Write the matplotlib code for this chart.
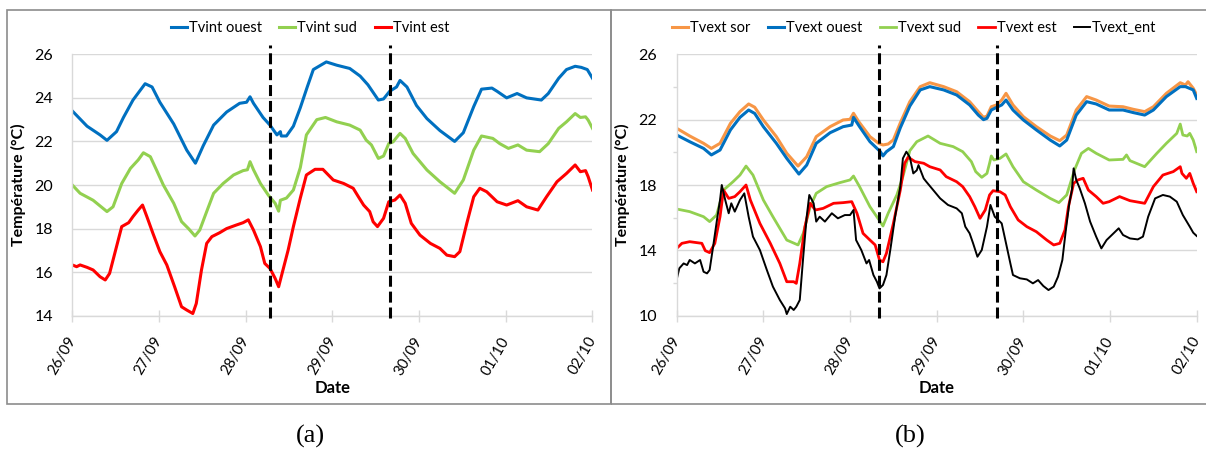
import matplotlib
matplotlib.use("Agg")
import matplotlib.pyplot as plt
from matplotlib.patches import Rectangle

plt.rcParams['font.family'] = ['Lato', 'DejaVu Sans']

# jours depuis le 26/09 00:00 -> température (°C)
days = ["26/09", "27/09", "28/09", "29/09", "30/09", "01/10", "02/10"]

int_ouest = [(0, 23.4), (0.17, 22.7), (0.32, 22.3), (0.40, 22.05), (0.51, 22.45), (0.59, 23.1),
             (0.70, 23.9), (0.84, 24.65), (0.92, 24.5), (1.01, 23.8), (1.17, 22.8), (1.32, 21.6),
             (1.42, 21.0), (1.51, 21.8), (1.63, 22.75), (1.78, 23.35), (1.93, 23.75), (2.01, 23.8),
             (2.05, 24.05), (2.09, 23.75), (2.20, 23.1), (2.28, 22.75), (2.36, 22.3), (2.40, 22.45),
             (2.41, 22.25), (2.47, 22.25), (2.55, 22.7), (2.63, 23.55), (2.71, 24.5), (2.78, 25.3),
             (2.93, 25.65), (3.05, 25.5), (3.20, 25.35), (3.32, 25.0), (3.41, 24.6), (3.53, 23.9),
             (3.59, 23.95), (3.66, 24.3), (3.74, 24.5), (3.78, 24.8), (3.86, 24.5), (3.97, 23.65),
             (4.09, 23.05), (4.24, 22.5), (4.41, 22.0), (4.51, 22.4), (4.63, 23.6), (4.72, 24.4),
             (4.84, 24.45), (4.90, 24.3), (5.01, 24.0), (5.13, 24.2), (5.24, 24.0), (5.41, 23.9),
             (5.49, 24.2), (5.61, 24.9), (5.70, 25.3), (5.80, 25.45), (5.87, 25.4), (5.94, 25.3),
             (6.0, 24.9)]

int_sud = [(0, 20.0), (0.09, 19.62), (0.24, 19.3), (0.40, 18.78), (0.47, 19.0), (0.57, 20.07),
           (0.67, 20.76), (0.76, 21.15), (0.82, 21.48), (0.90, 21.3), (0.97, 20.7), (1.05, 20.0),
           (1.17, 19.16), (1.26, 18.32), (1.34, 18.0), (1.415, 17.66), (1.47, 17.93), (1.55, 18.78),
           (1.63, 19.62), (1.74, 20.07), (1.86, 20.46), (1.97, 20.66), (2.02, 20.7), (2.05, 21.07),
           (2.09, 20.7), (2.17, 20.07), (2.26, 19.54), (2.34, 19.16), (2.38, 18.8), (2.40, 19.3),
           (2.47, 19.4), (2.55, 19.77), (2.63, 20.8), (2.70, 22.3), (2.82, 23.0), (2.92, 23.1),
           (3.05, 22.9), (3.20, 22.75), (3.32, 22.52), (3.39, 22.06), (3.45, 21.84), (3.53, 21.22),
           (3.59, 21.33), (3.65, 21.9), (3.70, 21.98), (3.74, 22.18), (3.78, 22.37), (3.84, 22.14),
           (3.93, 21.45), (4.09, 20.69), (4.24, 20.15), (4.41, 19.62), (4.51, 20.23), (4.63, 21.6),
           (4.72, 22.25), (4.85, 22.14), (4.93, 21.9), (5.03, 21.68), (5.14, 21.84), (5.24, 21.6),
           (5.39, 21.53), (5.49, 21.9), (5.61, 22.6), (5.70, 22.9), (5.80, 23.28), (5.86, 23.1),
           (5.92, 23.13), (5.95, 22.98), (6.0, 22.6)]

int_est = [(0, 16.33), (0.05, 16.25), (0.09, 16.33), (0.17, 16.22), (0.24, 16.1), (0.32, 15.79),
           (0.38, 15.64), (0.43, 15.94), (0.51, 17.17), (0.57, 18.09), (0.65, 18.27), (0.70, 18.55),
           (0.76, 18.85), (0.81, 19.08), (0.86, 18.55), (0.93, 17.78), (1.01, 16.94), (1.09, 16.33),
           (1.18, 15.33), (1.26, 14.41), (1.32, 14.26), (1.39, 14.1), (1.43, 14.56), (1.49, 16.1),
           (1.55, 17.32), (1.61, 17.63), (1.70, 17.81), (1.78, 18.0), (1.89, 18.16), (1.97, 18.27),
           (2.03, 18.4), (2.09, 17.93), (2.17, 17.17), (2.22, 16.4), (2.28, 16.17), (2.34, 15.71),
           (2.38, 15.33), (2.43, 16.1), (2.49, 17.02), (2.55, 18.09), (2.63, 19.4), (2.70, 20.46),
           (2.80, 20.72), (2.89, 20.72), (3.01, 20.23), (3.13, 20.07), (3.24, 19.85), (3.30, 19.46),
           (3.36, 19.08), (3.43, 18.78), (3.47, 18.31), (3.52, 18.09), (3.59, 18.47), (3.65, 19.23),
           (3.72, 19.31), (3.78, 19.54), (3.84, 19.16), (3.91, 18.24), (4.01, 17.7), (4.13, 17.32),
           (4.24, 17.09), (4.32, 16.78), (4.41, 16.71), (4.47, 16.94), (4.55, 18.24), (4.63, 19.46),
           (4.70, 19.85), (4.78, 19.69), (4.90, 19.23), (5.01, 19.08), (5.14, 19.28), (5.24, 19.0),
           (5.37, 18.85), (5.47, 19.46), (5.59, 20.15), (5.70, 20.53), (5.80, 20.92), (5.86, 20.61),
           (5.92, 20.66), (5.95, 20.38), (6.0, 19.77)]

ext_sor = [(0, 21.47), (0.15, 21.0), (0.31, 20.55), (0.40, 20.24), (0.50, 20.55), (0.62, 21.77),
           (0.73, 22.49), (0.83, 22.96), (0.90, 22.76), (1.0, 21.98), (1.15, 20.96), (1.27, 19.94),
           (1.40, 19.16), (1.50, 19.73), (1.61, 20.96), (1.77, 21.57), (1.92, 21.98), (2.0, 22.02),
           (2.04, 22.39), (2.10, 21.88), (2.23, 20.96), (2.33, 20.55), (2.38, 20.45), (2.44, 20.51),
           (2.50, 20.76), (2.58, 21.8), (2.69, 23.1), (2.81, 24.02), (2.92, 24.26), (3.08, 24.02),
           (3.23, 23.71), (3.38, 23.1), (3.48, 22.49), (3.54, 22.14), (3.58, 22.22), (3.63, 22.79),
           (3.69, 22.9), (3.75, 23.2), (3.80, 23.61), (3.88, 22.9), (4.0, 22.18), (4.15, 21.57),
           (4.31, 21.0), (4.42, 20.71), (4.50, 21.06), (4.61, 22.59), (4.73, 23.41), (4.84, 23.2),
           (4.99, 22.83), (5.15, 22.79), (5.27, 22.63), (5.40, 22.49), (5.50, 22.79), (5.65, 23.61),
           (5.81, 24.26), (5.87, 24.12), (5.90, 24.32), (5.96, 23.92), (6.0, 23.51)]

ext_ouest = [(0, 21.06), (0.15, 20.65), (0.31, 20.24), (0.40, 19.84), (0.50, 20.14), (0.62, 21.37),
             (0.73, 22.14), (0.83, 22.59), (0.90, 22.38), (1.0, 21.57), (1.15, 20.55), (1.27, 19.63),
             (1.41, 18.67), (1.50, 19.22), (1.61, 20.55), (1.77, 21.2), (1.92, 21.57), (2.02, 21.67),
             (2.04, 22.14), (2.11, 21.57), (2.23, 20.65), (2.35, 20.04), (2.38, 19.78), (2.42, 20.04),
             (2.50, 20.35), (2.58, 21.5), (2.69, 22.83), (2.81, 23.82), (2.92, 24.02), (3.08, 23.82),
             (3.23, 23.51), (3.38, 22.9), (3.48, 22.28), (3.54, 22.0), (3.58, 22.08), (3.63, 22.59),
             (3.69, 22.75), (3.75, 22.9), (3.80, 23.2), (3.88, 22.59), (4.0, 21.98), (4.15, 21.37),
             (4.31, 20.75), (4.42, 20.39), (4.50, 20.75), (4.61, 22.28), (4.73, 23.1), (4.84, 22.96),
             (4.99, 22.59), (5.15, 22.59), (5.27, 22.43), (5.40, 22.28), (5.50, 22.59), (5.65, 23.41),
             (5.81, 24.02), (5.87, 24.02), (5.96, 23.82), (6.0, 23.3)]

ext_sud = [(0, 16.53), (0.15, 16.37), (0.31, 16.06), (0.38, 15.76), (0.46, 16.16), (0.54, 17.69),
           (0.65, 18.2), (0.73, 18.61), (0.80, 19.16), (0.88, 18.61), (1.0, 17.08), (1.11, 16.06),
           (1.27, 14.63), (1.40, 14.33), (1.46, 15.04), (1.54, 16.67), (1.61, 17.49), (1.73, 17.9),
           (1.88, 18.14), (2.0, 18.31), (2.04, 18.55), (2.11, 17.9), (2.23, 16.67), (2.33, 15.9),
           (2.38, 15.49), (2.44, 16.27), (2.54, 17.39), (2.61, 18.51), (2.69, 20.1), (2.77, 20.65),
           (2.90, 21.0), (3.04, 20.55), (3.19, 20.35), (3.30, 20.04), (3.40, 19.43), (3.45, 18.82),
           (3.52, 18.47), (3.58, 18.71), (3.61, 19.33), (3.63, 19.78), (3.66, 19.53), (3.73, 19.63),
           (3.80, 19.9), (3.88, 19.12), (4.0, 18.2), (4.15, 17.69), (4.31, 17.18), (4.41, 16.92),
           (4.50, 17.39), (4.59, 18.92), (4.67, 19.94), (4.75, 20.24), (4.84, 19.94), (4.99, 19.53),
           (5.15, 19.57), (5.19, 19.84), (5.23, 19.49), (5.40, 19.12), (5.54, 19.94), (5.65, 20.55),
           (5.77, 21.16), (5.81, 21.73), (5.84, 21.06), (5.89, 21.0), (5.92, 21.16), (5.96, 20.75),
           (6.0, 20.04)]

ext_est = [(0, 14.12), (0.06, 14.43), (0.15, 14.53), (0.29, 14.43), (0.33, 13.98), (0.38, 13.86),
           (0.44, 14.43), (0.50, 16.06), (0.54, 17.69), (0.60, 17.18), (0.67, 17.29), (0.73, 17.59),
           (0.80, 18.0), (0.85, 17.08), (0.96, 15.65), (1.08, 14.43), (1.19, 13.2), (1.27, 12.08),
           (1.35, 12.08), (1.38, 11.98), (1.42, 13.2), (1.48, 15.45), (1.54, 16.88), (1.60, 16.47),
           (1.69, 16.57), (1.81, 16.88), (1.92, 16.92), (2.02, 16.98), (2.08, 16.27), (2.15, 15.04),
           (2.23, 14.63), (2.29, 14.33), (2.34, 13.41), (2.38, 13.3), (2.42, 13.82), (2.50, 15.65),
           (2.58, 17.69), (2.63, 19.33), (2.67, 19.7), (2.75, 19.43), (2.85, 19.33), (2.92, 19.12),
           (3.04, 18.92), (3.11, 18.51), (3.23, 18.2), (3.30, 17.9), (3.38, 17.29), (3.44, 16.67),
           (3.50, 15.96), (3.56, 16.47), (3.61, 17.39), (3.65, 17.65), (3.73, 17.59), (3.79, 17.39),
           (3.85, 16.67), (3.94, 15.86), (4.04, 15.45), (4.15, 15.14), (4.27, 14.63), (4.35, 14.33),
           (4.42, 14.43), (4.48, 15.25), (4.52, 16.67), (4.58, 18.1), (4.63, 18.31), (4.69, 18.41),
           (4.75, 17.69), (4.84, 17.29), (4.92, 16.88), (4.99, 16.98), (5.11, 17.29), (5.23, 17.04),
           (5.40, 16.88), (5.50, 17.9), (5.61, 18.61), (5.73, 18.82), (5.81, 19.12), (5.83, 18.71),
           (5.88, 18.41), (5.92, 18.71), (5.96, 18.1), (6.0, 17.59)]

ext_ent = [(0, 12.22), (0.03, 12.9), (0.08, 13.2), (0.12, 13.1), (0.15, 13.41), (0.21, 13.2),
           (0.27, 13.41), (0.31, 12.69), (0.35, 12.59), (0.38, 12.8), (0.42, 14.22), (0.47, 16.06),
           (0.50, 17.08), (0.52, 18.0), (0.56, 17.08), (0.60, 16.27), (0.63, 16.88), (0.67, 16.37),
           (0.73, 17.08), (0.78, 17.49), (0.83, 16.06), (0.88, 14.84), (0.96, 14.02), (1.04, 12.8),
           (1.11, 11.78), (1.19, 10.96), (1.25, 10.45), (1.27, 10.1), (1.31, 10.55), (1.35, 10.35),
           (1.38, 10.55), (1.42, 10.96), (1.46, 13.61), (1.50, 16.06), (1.53, 17.39), (1.58, 16.88),
           (1.61, 15.76), (1.65, 16.06), (1.71, 15.76), (1.79, 16.27), (1.86, 15.96), (1.94, 16.16),
           (2.0, 16.16), (2.04, 16.47), (2.07, 14.63), (2.13, 14.02), (2.19, 13.2), (2.22, 13.41),
           (2.27, 12.49), (2.31, 12.08), (2.34, 11.67), (2.38, 11.88), (2.42, 12.49), (2.47, 14.22),
           (2.52, 16.06), (2.58, 17.9), (2.61, 19.63), (2.65, 20.04), (2.69, 19.7), (2.73, 18.71),
           (2.77, 18.9), (2.79, 19.22), (2.85, 18.4), (2.88, 18.2), (2.96, 17.69), (3.04, 17.18),
           (3.13, 16.78), (3.23, 16.57), (3.29, 16.27), (3.33, 15.45), (3.38, 15.04), (3.42, 14.43),
           (3.47, 13.61), (3.52, 14.02), (3.58, 15.45), (3.62, 16.78), (3.67, 16.06), (3.71, 15.86),
           (3.75, 15.65), (3.80, 14.43), (3.85, 13.2), (3.88, 12.49), (3.96, 12.29), (4.04, 12.22),
           (4.11, 11.98), (4.17, 12.18), (4.23, 11.82), (4.29, 11.57), (4.35, 11.78), (4.40, 12.39),
           (4.45, 13.41), (4.49, 15.24), (4.53, 16.88), (4.56, 17.69), (4.58, 19.02), (4.61, 18.31),
           (4.65, 17.8), (4.71, 16.88), (4.77, 15.76), (4.84, 14.84), (4.90, 14.12), (4.96, 14.63),
           (5.04, 15.04), (5.10, 15.35), (5.15, 14.94), (5.23, 14.73), (5.32, 14.67), (5.38, 14.84),
           (5.44, 16.06), (5.52, 17.18), (5.61, 17.39), (5.69, 17.29), (5.77, 16.98), (5.84, 16.16),
           (5.92, 15.45), (5.96, 15.08), (6.0, 14.88)]

# instants des traits verticaux (jours)
cuts_a = [2.28, 3.66]
cuts_b = [2.34, 3.70]

BLUE, GREEN, RED, ORANGE = "#0070C0", "#92D050", "#FF0000", "#F79646"
GRID = "#d9d9d9"

fig = plt.figure(figsize=(12.06, 4.5), dpi=100)

# cadres des deux sous-figures
fig.add_artist(Rectangle((7 / 1206, 1 - 404 / 450), (611 - 7) / 1206, 394 / 450,
                         transform=fig.transFigure, fill=False, ec="#8c8c8c", lw=1.2))
fig.add_artist(Rectangle((611 / 1206, 1 - 404 / 450), (1206 - 611) / 1206 + 0.01, 394 / 450,
                         transform=fig.transFigure, fill=False, ec="#8c8c8c", lw=1.2))

ax1 = fig.add_axes([0.05995, 0.29844, 0.43134, 0.58089])
ax2 = fig.add_axes([0.56111, 0.29844, 0.43118, 0.58089])


def style(ax, ylim, yticks, minor=None):
    ax.set_xlim(0, 6)
    ax.set_ylim(*ylim)
    ax.set_yticks(yticks)
    ax.set_yticklabels([str(v) for v in yticks], fontsize=11.5)
    if minor:
        ax.set_yticks(minor, minor=True)
        ax.tick_params(axis="y", which="minor", length=3, color=GRID, width=1)
    ax.set_xticks(range(7))
    ax.set_xticklabels(days, rotation=60, ha="right", va="center", rotation_mode="anchor",
                       fontsize=10.8)
    ax.tick_params(axis="x", direction="inout", length=8, color=GRID, width=1, pad=12)
    ax.tick_params(axis="y", which="major", length=0, pad=14)
    ax.grid(axis="y", color=GRID, lw=1)
    ax.set_axisbelow(True)
    for s in ["top", "right"]:
        ax.spines[s].set_visible(False)
    for s in ["left", "bottom"]:
        ax.spines[s].set_color(GRID)
        ax.spines[s].set_linewidth(1)
    ax.set_xlabel("Date", fontsize=12, fontweight="bold", labelpad=2)
    ax.set_ylabel("Température (°C)", fontsize=11.5, fontweight="bold", labelpad=6)


def plot(ax, data, color, lw, label):
    t, v = zip(*data)
    ax.plot(t, v, color=color, lw=lw, label=label, solid_joinstyle="round")


style(ax1, (14, 26), [14, 16, 18, 20, 22, 24, 26])
plot(ax1, int_ouest, BLUE, 2.2, "Tvint ouest")
plot(ax1, int_sud, GREEN, 2.2, "Tvint sud")
plot(ax1, int_est, RED, 2.2, "Tvint est")

style(ax2, (10, 26), [10, 14, 18, 22, 26], minor=[12, 16, 20, 24])
plot(ax2, ext_sor, ORANGE, 2.2, "Tvext sor")
plot(ax2, ext_ouest, BLUE, 2.2, "Tvext ouest")
plot(ax2, ext_sud, GREEN, 2.0, "Tvext sud")
plot(ax2, ext_est, RED, 2.0, "Tvext est")
plot(ax2, ext_ent, "black", 1.4, "Tvext_ent")

for ax, cuts in [(ax1, cuts_a), (ax2, cuts_b)]:
    for c in cuts:
        ax.plot([c, c], [-0.009, 1.036], transform=ax.get_xaxis_transform(), color="black",
                lw=2.2, ls=(0, (3.6, 1.6)), clip_on=False, zorder=5)

for ax, x in [(ax1, 310 / 1206), (ax2, 914 / 1206)]:
    ax.legend(loc="center", bbox_to_anchor=(x, 1 - 28 / 450), bbox_transform=fig.transFigure,
              ncol=5, frameon=False, fontsize=10.5, handlelength=1.1, handletextpad=0.15,
              columnspacing=1.2)

fig.text(310 / 1206, 1 - 436 / 450, "(a)", ha="center", va="center", fontsize=19,
         family="Liberation Serif")
fig.text(910 / 1206, 1 - 436 / 450, "(b)", ha="center", va="center", fontsize=19,
         family="Liberation Serif")

fig.savefig("out.png", dpi=100)
